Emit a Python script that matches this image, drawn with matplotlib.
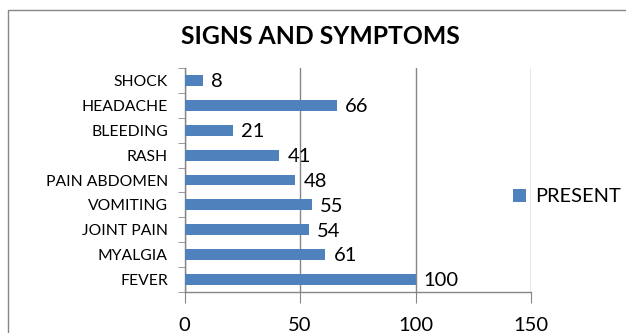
import matplotlib.pyplot as plt
from matplotlib.patches import Rectangle

# Signs and symptoms, listed bottom to top
symptoms = ["FEVER", "MYALGIA", "JOINT PAIN", "VOMITING", "PAIN ABDOMEN",
            "RASH", "BLEEDING", "HEADACHE", "SHOCK"]
present = [100, 61, 54, 55, 48, 41, 21, 66, 8]
x_ticks = [0, 50, 100, 150]

plt.rcParams['font.family'] = ['Lato', 'DejaVu Sans']

W, H = 626, 333
fig = plt.figure(figsize=(W / 100, H / 100), dpi=100)
ax = fig.add_axes([184.5 / W, 1 - 292 / H, (531 - 184.5) / W, (292 - 68) / H])

grey = "#868686"
bar_color = "#4F81BD"

y = range(len(symptoms))
bars = ax.barh(y, present, height=0.44, color=bar_color, label="PRESENT", zorder=3)
for yi, v in zip(y, present):
    ax.text(v + 3.5, yi - 0.05, f"{v}", va="center", ha="left", fontsize=14.5, color="black")

ax.set_xlim(0, 150)
ax.set_ylim(-0.5, len(symptoms) - 0.5)
ax.set_xticks(x_ticks)
ax.set_xticklabels([str(t) for t in x_ticks], fontsize=14.5)
ax.tick_params(axis="x", length=8, color=grey, pad=10)

ax.set_yticks(list(y))
ax.set_yticklabels(symptoms, fontsize=11.3)
ax.tick_params(axis="y", length=0, pad=12)
ax.set_yticks([i - 0.5 for i in range(len(symptoms) + 1)], minor=True)
ax.tick_params(axis="y", which="minor", length=5, color=grey)

ax.grid(axis="x", color=grey, linewidth=1, zorder=0)
for s in ("top", "right"):
    ax.spines[s].set_visible(False)
for s in ("left", "bottom"):
    ax.spines[s].set_color(grey)
    ax.spines[s].set_linewidth(1)

fig.text(320.5 / W, 1 - 37 / H, "SIGNS AND SYMPTOMS", ha="center", va="center",
         fontsize=17.8, fontweight="bold")

fig.legend(handles=[bars], labels=["PRESENT"], loc="center left",
           bbox_to_anchor=(513 / W, 1 - 197 / H), frameon=False, fontsize=14.4,
           borderaxespad=0, borderpad=0,
           handlelength=0.65, handleheight=0.65, handletextpad=0.45)

# chart area border
fig.patches.append(Rectangle((8 / W, -0.1), 1.2, 1 - 10 / H + 0.1,
                             transform=fig.transFigure, fill=False,
                             edgecolor=grey, linewidth=1))

fig.savefig("out.png", dpi=100)
